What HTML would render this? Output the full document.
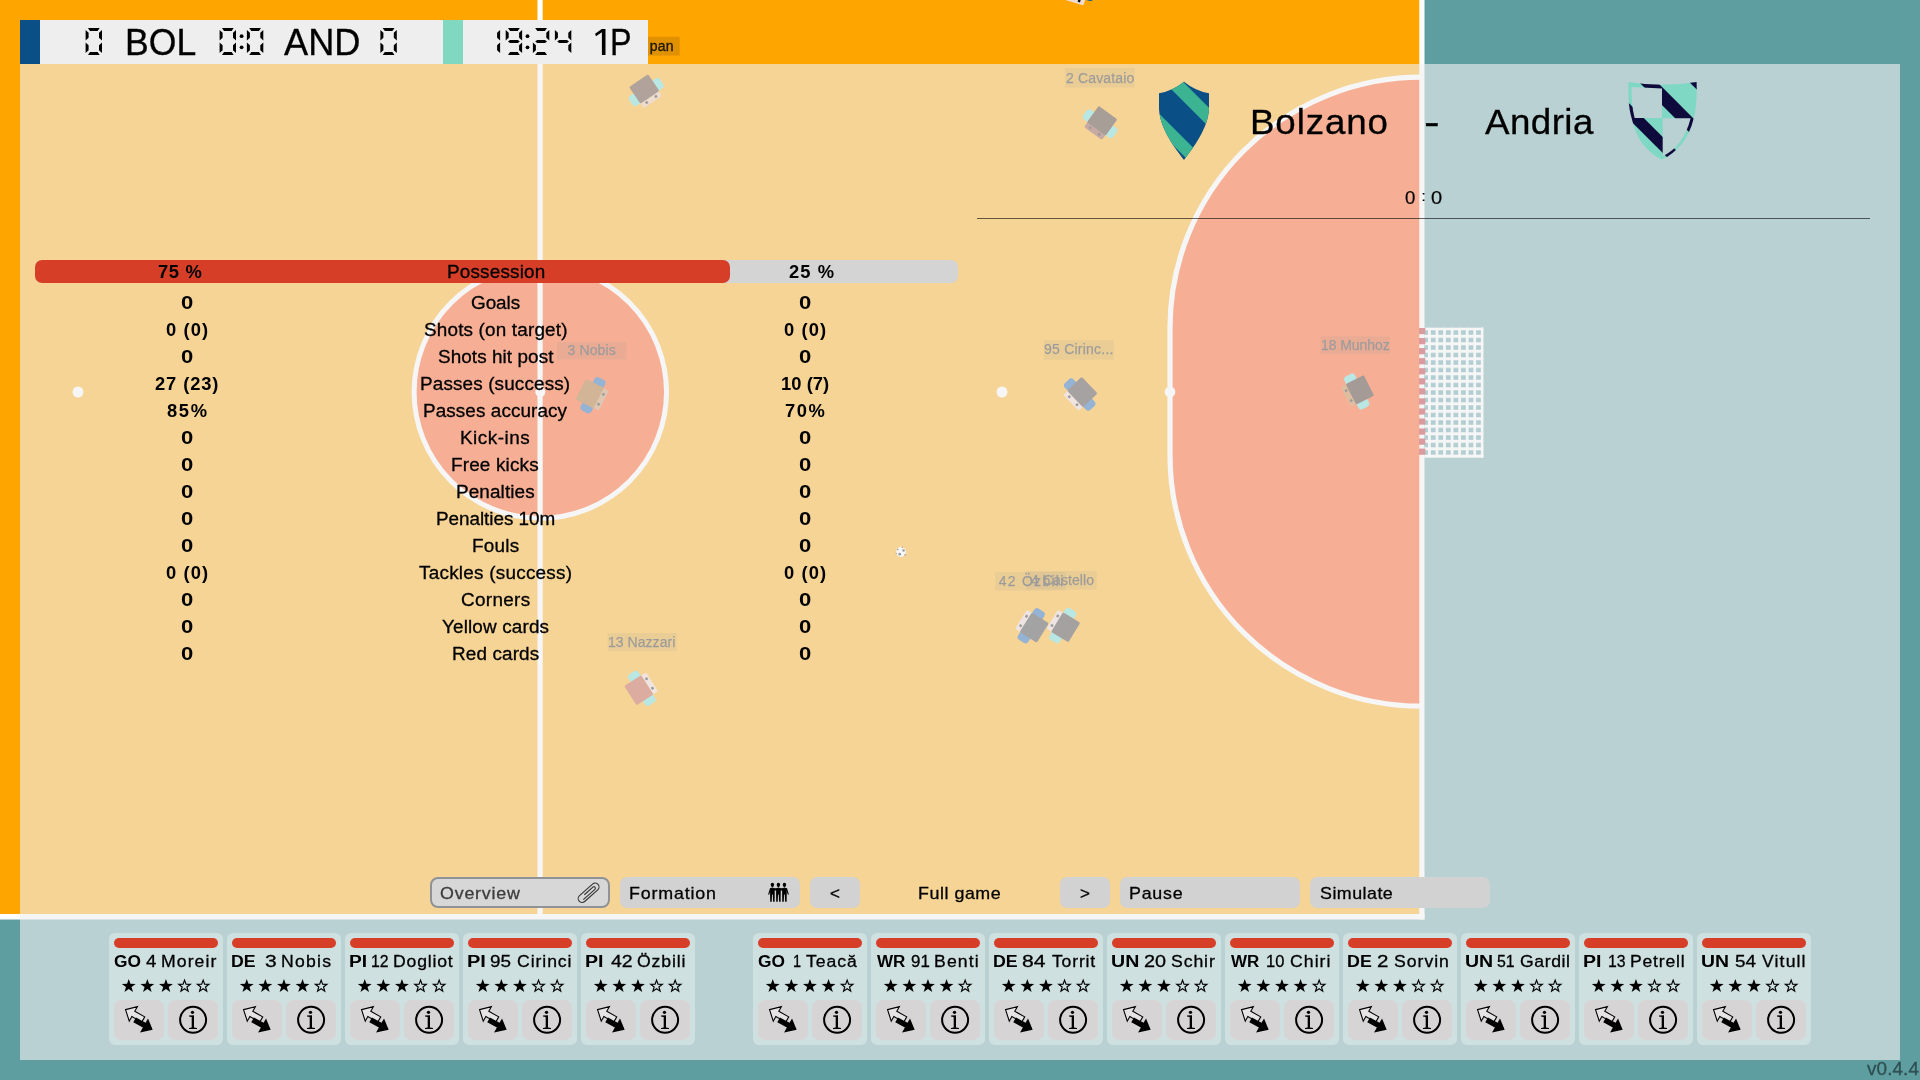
<!DOCTYPE html>
<html><head><meta charset="utf-8"><title>Match</title>
<style>
html,body{margin:0;padding:0;}
body{width:1920px;height:1080px;overflow:hidden;position:relative;background:#5f9ea0;font-family:"Liberation Sans",sans-serif;}
.t{position:absolute;white-space:pre;line-height:1;display:block;}
.abs{position:absolute;}
#game{position:absolute;left:0;top:0;will-change:transform;}
#ov{position:absolute;left:20px;top:64px;width:1880px;height:996px;background:rgba(240,240,240,0.62);}
.btn{position:absolute;background:#d2d2d2;border-radius:7px;box-sizing:border-box;}
.card{position:absolute;top:933px;width:113.5px;height:112px;border-radius:6px;background:rgba(255,255,255,0.32);}
.bar{position:absolute;left:5px;top:5px;width:104px;height:10px;border-radius:5px;background:#d73e28;}
.cb{position:absolute;top:67px;width:50px;height:40px;border-radius:7px;background:#d6d4d4;}
</style></head><body>

<svg id="game" width="1920" height="1080" viewBox="0 0 1920 1080">
<rect x="0" y="0" width="1920" height="1080" fill="#5f9ea0"/>
<rect x="0" y="0" width="1422" height="917" fill="#ffa500"/>
<circle cx="540.3" cy="392" r="126.2" fill="#ff4500" stroke="#fff" stroke-width="5"/>
<path d="M1421.5,77.2 A251.5,251 0 0 0 1170,328.2 L1170,455.2 A251.5,251 0 0 0 1421.5,706.2 Z" fill="#ff4500"/><path d="M1421.5,77.2 A251.5,251 0 0 0 1170,328.2 L1170,455.2 A251.5,251 0 0 0 1421.5,706.2" fill="none" stroke="#fff" stroke-width="5.2"/>
<rect x="537.45" y="0" width="5.25" height="917" fill="#fff"/>
<rect x="1419.3" y="0" width="5.2" height="919.5" fill="#fff"/>
<rect x="0" y="914" width="1424.5" height="5.5" fill="#fff"/>
<circle cx="78" cy="392" r="5.5" fill="#fff"/>
<circle cx="1002" cy="392" r="5.5" fill="#fff"/>
<circle cx="1170" cy="392" r="5.4" fill="#fff"/>
<circle cx="540.3" cy="392" r="5" fill="#fff"/>
<defs><pattern id="net" x="1420.5" y="327.3" width="7.55" height="7.5" patternUnits="userSpaceOnUse"><rect x="0" y="0" width="7.55" height="7.5" fill="#fff"/><rect x="2.75" y="3.0" width="4.8" height="4.5" fill="#4e97a2"/></pattern></defs>
<rect x="1424.5" y="327.6" width="58.8" height="129.9" fill="url(#net)"/>
<rect x="1480.9" y="327.6" width="2.4" height="129.9" fill="#fff"/>
<rect x="1424.5" y="454.8" width="58.8" height="2.7" fill="#fff"/>
<rect x="1419" y="328.00" width="6.3" height="6.20" fill="#b5101a"/>
<rect x="1419" y="338.05" width="6.3" height="6.20" fill="#b5101a"/>
<rect x="1419" y="348.10" width="6.3" height="6.20" fill="#b5101a"/>
<rect x="1419" y="358.15" width="6.3" height="6.20" fill="#b5101a"/>
<rect x="1419" y="368.20" width="6.3" height="6.20" fill="#b5101a"/>
<rect x="1419" y="378.25" width="6.3" height="6.20" fill="#b5101a"/>
<rect x="1419" y="388.30" width="6.3" height="6.20" fill="#b5101a"/>
<rect x="1419" y="398.35" width="6.3" height="6.20" fill="#b5101a"/>
<rect x="1419" y="408.40" width="6.3" height="6.20" fill="#b5101a"/>
<rect x="1419" y="418.45" width="6.3" height="6.20" fill="#b5101a"/>
<rect x="1419" y="428.50" width="6.3" height="6.20" fill="#b5101a"/>
<rect x="1419" y="438.55" width="6.3" height="6.20" fill="#b5101a"/>
<rect x="1419" y="448.60" width="6.3" height="6.20" fill="#b5101a"/>
<g transform="translate(644.3,89.1) rotate(-34)"><rect x="-18.5" y="-2.5" width="37" height="12" rx="3.5" fill="#5fd8d0"/><rect x="-11" y="6" width="22" height="9.6" rx="1.5" fill="#ebbb94"/><rect x="-11.5" y="-10.2" width="23" height="20.2" rx="1.5" fill="#4b2611"/><rect x="-6.8" y="11.3" width="2.5" height="2.5" fill="#111"/><rect x="4.3" y="11.3" width="2.5" height="2.5" fill="#111"/></g>
<g transform="translate(1102.1,120.8) rotate(35.8)"><rect x="-18.5" y="-2.5" width="37" height="12" rx="3.5" fill="#5fd8d0"/><rect x="-11" y="6" width="22" height="9.6" rx="1.5" fill="#87382b"/><rect x="-11.5" y="-10.2" width="23" height="20.2" rx="1.5" fill="#33190a"/><rect x="-6.8" y="11.3" width="2.5" height="2.5" fill="#111"/><rect x="4.3" y="11.3" width="2.5" height="2.5" fill="#111"/></g>
<g transform="translate(589.8,393.7) rotate(-63.4)"><rect x="-18.5" y="-2.5" width="37" height="12" rx="3.5" fill="#004fa6"/><rect x="-11" y="6" width="22" height="9.6" rx="1.5" fill="#c18752"/><rect x="-11.5" y="-10.2" width="23" height="20.2" rx="1.5" fill="#a15204"/><rect x="-6.8" y="11.3" width="2.5" height="2.5" fill="#111"/><rect x="4.3" y="11.3" width="2.5" height="2.5" fill="#111"/></g>
<g transform="translate(1082.2,392.1) rotate(46.2)"><rect x="-18.5" y="-2.5" width="37" height="12" rx="3.5" fill="#004fa6"/><rect x="-11" y="6" width="22" height="9.6" rx="1.5" fill="#f0d0c8"/><rect x="-11.5" y="-10.2" width="23" height="20.2" rx="1.5" fill="#2e2424"/><rect x="-6.8" y="11.3" width="2.5" height="2.5" fill="#111"/><rect x="4.3" y="11.3" width="2.5" height="2.5" fill="#111"/></g>
<g transform="translate(1359.8,389.9) rotate(62.9)"><rect x="-18.5" y="-2.5" width="37" height="12" rx="3.5" fill="#5fd8d0"/><rect x="-11" y="6" width="22" height="9.6" rx="1.5" fill="#c16d1e"/><rect x="-11.5" y="-10.2" width="23" height="20.2" rx="1.5" fill="#2b1104"/><rect x="-6.8" y="11.3" width="2.5" height="2.5" fill="#111"/><rect x="4.3" y="11.3" width="2.5" height="2.5" fill="#111"/></g>
<g transform="translate(1034.2,627.6) rotate(122)"><rect x="-18.5" y="-2.5" width="37" height="12" rx="3.5" fill="#004fa6"/><rect x="-11" y="6" width="22" height="9.6" rx="1.5" fill="#ebd0d0"/><rect x="-11.5" y="-10.2" width="23" height="20.2" rx="1.5" fill="#262626"/><rect x="-6.8" y="11.3" width="2.5" height="2.5" fill="#111"/><rect x="4.3" y="11.3" width="2.5" height="2.5" fill="#111"/></g>
<g transform="translate(1065.6,627.25) rotate(121.2)"><rect x="-18.5" y="-2.5" width="37" height="12" rx="3.5" fill="#5fd8d0"/><rect x="-11" y="6" width="22" height="9.6" rx="1.5" fill="#ebd0d0"/><rect x="-11.5" y="-10.2" width="23" height="20.2" rx="1.5" fill="#2a2020"/><rect x="-6.8" y="11.3" width="2.5" height="2.5" fill="#111"/><rect x="4.3" y="11.3" width="2.5" height="2.5" fill="#111"/></g>
<g transform="translate(638.9,690.2) rotate(-122.4)"><rect x="-18.5" y="-2.5" width="37" height="12" rx="3.5" fill="#5fd8d0"/><rect x="-11" y="6" width="22" height="9.6" rx="1.5" fill="#f0d0c0"/><rect x="-11.5" y="-10.2" width="23" height="20.2" rx="1.5" fill="#bb3d1e"/><rect x="-6.8" y="11.3" width="2.5" height="2.5" fill="#111"/><rect x="4.3" y="11.3" width="2.5" height="2.5" fill="#111"/></g>
<g transform="translate(1077.5,-12.6) rotate(17)"><rect x="-18.5" y="-2.5" width="37" height="12" rx="3.5" fill="#0a5a9c"/><rect x="-11" y="6" width="22" height="9.6" rx="1.5" fill="#f0dcd0"/><rect x="-11.5" y="-10.2" width="23" height="20.2" rx="1.5" fill="#3a3030"/><rect x="-6.8" y="11.3" width="2.5" height="2.5" fill="#111"/><rect x="4.3" y="11.3" width="2.5" height="2.5" fill="#111"/></g>
<circle cx="901" cy="552" r="4.9" fill="#fff"/>
<circle cx="903.5" cy="550.4" r="1.25" fill="#111"/>
<circle cx="899.7" cy="554.2" r="1.35" fill="#111"/>
<circle cx="897.8" cy="549.6" r="0.8" fill="#111"/>
<circle cx="905.1" cy="554.9" r="0.8" fill="#111"/>
<circle cx="902.4" cy="547.4" r="0.6" fill="#111"/>
<circle cx="896.3" cy="553.4" r="0.6" fill="#111"/>
<rect x="610" y="36.8" width="69.7" height="18.8" fill="#000" fill-opacity="0.12"/><text x="649.73" y="51.0" font-family="Liberation Sans, sans-serif" font-size="14" letter-spacing="0.277" fill="#1c1705" stroke="#1c1705" stroke-width="0.35">pan</text>
<rect x="1065" y="67.9" width="69.6" height="19.6" fill="#000" fill-opacity="0.12"/><text x="1066.00" y="82.7" font-family="Liberation Sans, sans-serif" font-size="14" letter-spacing="0.154" fill="#111" stroke="#111" stroke-width="0.25">2 Cavataio</text><rect x="557" y="342" width="69.4" height="17.6" fill="#000" fill-opacity="0.12"/><text x="567.48" y="354.8" font-family="Liberation Sans, sans-serif" font-size="14" letter-spacing="0.142" fill="#111" stroke="#111" stroke-width="0.25">3 Nobis</text><rect x="1043.9" y="340.2" width="69.9" height="19.6" fill="#000" fill-opacity="0.12"/><text x="1043.97" y="353.9" font-family="Liberation Sans, sans-serif" font-size="14" letter-spacing="0.234" fill="#111" stroke="#111" stroke-width="0.25">95 Cirinc...</text><rect x="1320.4" y="336.25" width="69.8" height="17.8" fill="#000" fill-opacity="0.12"/><text x="1320.95" y="349.8" font-family="Liberation Sans, sans-serif" font-size="14" letter-spacing="-0.069" fill="#111" stroke="#111" stroke-width="0.25">18 Munhoz</text><rect x="995.3" y="572" width="70.3" height="18.6" fill="#000" fill-opacity="0.12"/><text x="998.68" y="585.5" font-family="Liberation Sans, sans-serif" font-size="14" letter-spacing="1.275" fill="#111" stroke="#111" stroke-width="0.25">42 Özbili</text><rect x="1026" y="571" width="70.7" height="18.6" fill="#000" fill-opacity="0.12"/><text x="1031.09" y="585" font-family="Liberation Sans, sans-serif" font-size="14" letter-spacing="0.072" fill="#111" stroke="#111" stroke-width="0.25">4 Castello</text><rect x="607.6" y="633" width="69.0" height="18.0" fill="#000" fill-opacity="0.12"/><text x="607.95" y="646.9" font-family="Liberation Sans, sans-serif" font-size="14" letter-spacing="0.053" fill="#111" stroke="#111" stroke-width="0.25">13 Nazzari</text>
</svg>
<div id="hud" style="position:absolute;left:0;top:0;width:1920px;height:1080px;will-change:transform;">
<div class="abs" style="left:20px;top:20px;width:628px;height:44px;background:#eeeeee;"></div>
<div class="abs" style="left:20px;top:20px;width:20px;height:44px;background:#0a4f86;"></div>
<div class="abs" style="left:443px;top:20px;width:20px;height:44px;background:#80d8c0;"></div>
<svg class="abs" style="left:0;top:0" width="700" height="70" viewBox="0 0 700 70" fill="#000"><g transform="translate(85.6,28)"><polygon points="2.3,0 14.1,0 12.0,3 4.4,3"/><polygon points="16.4,2.1 13.4,4.8 13.4,9.8 16.4,12.6"/><polygon points="16.4,14.4 13.4,17.2 13.4,22.2 16.4,24.9"/><polygon points="2.3,27 14.1,27 12.0,24 4.4,24"/><polygon points="0,14.4 3,17.2 3,22.2 0,24.9"/><polygon points="0,2.1 3,4.8 3,9.8 0,12.6"/></g><g transform="translate(219.6,28)"><polygon points="2.3,0 14.1,0 12.0,3 4.4,3"/><polygon points="16.4,2.1 13.4,4.8 13.4,9.8 16.4,12.6"/><polygon points="16.4,14.4 13.4,17.2 13.4,22.2 16.4,24.9"/><polygon points="2.3,27 14.1,27 12.0,24 4.4,24"/><polygon points="0,14.4 3,17.2 3,22.2 0,24.9"/><polygon points="0,2.1 3,4.8 3,9.8 0,12.6"/></g><g transform="translate(246.9,28)"><polygon points="2.3,0 14.1,0 12.0,3 4.4,3"/><polygon points="16.4,2.1 13.4,4.8 13.4,9.8 16.4,12.6"/><polygon points="16.4,14.4 13.4,17.2 13.4,22.2 16.4,24.9"/><polygon points="2.3,27 14.1,27 12.0,24 4.4,24"/><polygon points="0,14.4 3,17.2 3,22.2 0,24.9"/><polygon points="0,2.1 3,4.8 3,9.8 0,12.6"/></g><g transform="translate(380.4,28)"><polygon points="2.3,0 14.1,0 12.0,3 4.4,3"/><polygon points="16.4,2.1 13.4,4.8 13.4,9.8 16.4,12.6"/><polygon points="16.4,14.4 13.4,17.2 13.4,22.2 16.4,24.9"/><polygon points="2.3,27 14.1,27 12.0,24 4.4,24"/><polygon points="0,14.4 3,17.2 3,22.2 0,24.9"/><polygon points="0,2.1 3,4.8 3,9.8 0,12.6"/></g><g transform="translate(483.7,28)"><polygon points="16.4,2.1 13.4,4.8 13.4,9.8 16.4,12.6"/><polygon points="16.4,14.4 13.4,17.2 13.4,22.2 16.4,24.9"/></g><g transform="translate(505.7,28)"><polygon points="2.3,0 14.1,0 12.0,3 4.4,3"/><polygon points="16.4,2.1 13.4,4.8 13.4,9.8 16.4,12.6"/><polygon points="16.4,14.4 13.4,17.2 13.4,22.2 16.4,24.9"/><polygon points="2.3,27 14.1,27 12.0,24 4.4,24"/><polygon points="0,2.1 3,4.8 3,9.8 0,12.6"/><polygon points="2.3,13.5 4.3,12.1 12.1,12.1 14.1,13.5 12.1,14.9 4.3,14.9"/></g><g transform="translate(532.9,28)"><polygon points="2.3,0 14.1,0 12.0,3 4.4,3"/><polygon points="16.4,2.1 13.4,4.8 13.4,9.8 16.4,12.6"/><polygon points="2.3,13.5 4.3,12.1 12.1,12.1 14.1,13.5 12.1,14.9 4.3,14.9"/><polygon points="0,14.4 3,17.2 3,22.2 0,24.9"/><polygon points="2.3,27 14.1,27 12.0,24 4.4,24"/></g><g transform="translate(554.9,28)"><polygon points="0,2.1 3,4.8 3,9.8 0,12.6"/><polygon points="2.3,13.5 4.3,12.1 12.1,12.1 14.1,13.5 12.1,14.9 4.3,14.9"/><polygon points="16.4,2.1 13.4,4.8 13.4,9.8 16.4,12.6"/><polygon points="16.4,14.4 13.4,17.2 13.4,22.2 16.4,24.9"/></g><circle cx="241.6" cy="36.2" r="1.9"/><circle cx="241.6" cy="47.3" r="1.9"/><circle cx="527.5" cy="36.2" r="1.9"/><circle cx="527.5" cy="47.3" r="1.9"/></svg>
<span class="t" style="left:124.90px;top:24.53px;font-size:36px;letter-spacing:0.000px;color:#000;transform:scaleX(0.9884);transform-origin:0 0;-webkit-text-stroke:0.3px #000;">BOL</span>
<span class="t" style="left:284.00px;top:24.53px;font-size:36px;letter-spacing:0.000px;color:#000;transform:scaleX(1.0062);transform-origin:0 0;-webkit-text-stroke:0.3px #000;">AND</span>
<span class="t" style="left:610.11px;top:24.53px;font-size:36px;letter-spacing:0.000px;color:#000;transform:scaleX(0.8982);transform-origin:0 0;-webkit-text-stroke:0.3px #000;">P</span>
<svg class="abs" style="left:590px;top:24px" width="20" height="36" viewBox="590 24 20 36"><polygon points="605.5,28.9 605.5,54.9 601.9,54.9 601.9,32.3 596,36.2 595.1,33.7 601.8,28.9" fill="#000"/></svg>
</div>
<div id="ov"></div>
<div id="ui" style="position:absolute;left:0;top:0;width:1920px;height:1080px;will-change:transform;">
<svg class="abs" style="left:1140px;top:70px" width="100" height="100" viewBox="1140 70 100 100">
<defs><clipPath id="sh1"><path d="M1184,81.8 Q1196,91.5 1209,93.2 L1209,109 C1208,128 1194,147 1184,160 C1174,147 1160,128 1159,109 L1159,93.2 Q1172,91.5 1184,81.8 Z"/></clipPath></defs>
<g clip-path="url(#sh1)"><rect x="1140" y="70" width="100" height="100" fill="#0a4f86"/>
<polygon points="1140,38.7 1240,138.7 1240,158 1140,58" fill="#3cb391"/>
<polygon points="1140,94.5 1240,194.5 1240,212 1140,112" fill="#3cb391"/>
</g></svg>
<svg class="abs" style="left:1615px;top:70px" width="100" height="100" viewBox="1615 70 100 100">
<defs>
<clipPath id="sh2"><path d="M1628.4,82 Q1662,87.5 1696.6,82 C1697,95 1696.5,108 1693.8,118 C1689,139 1677,152.5 1662,159.6 C1647,152.5 1636,139 1631.6,118 C1628.5,108 1628.2,95 1628.4,82 Z"/></clipPath>
<mask id="m2"><rect x="1615" y="70" width="100" height="100" fill="#fff"/>
<path d="M1631.6,86.9 L1662,88.6 L1662,118 L1634.6,118 C1632,108 1631.5,97 1631.6,86.9 Z" fill="#000"/>
<path d="M1662.7,118.3 L1690.6,118.3 C1686,137 1676,150 1662.7,156.3 Z" fill="#000"/>
</mask></defs>
<g clip-path="url(#sh2)" mask="url(#m2)"><rect x="1615" y="70" width="100" height="100" fill="#7fd8c3"/>
<polygon points="1615,-9.7 1715,90.3 1715,107.8 1615,7.8" fill="#0f0a3c"/>
<polygon points="1615,39.9 1715,139.9 1715,158.1 1615,58.1" fill="#0f0a3c"/>
<polygon points="1615,89.2 1715,189.2 1715,205.2 1615,105.2" fill="#0f0a3c"/>
</g></svg>
<span class="t" style="left:1249.86px;top:104.37px;font-size:35px;letter-spacing:0.810px;color:#000;transform:scaleX(1.0500);transform-origin:0 0;-webkit-text-stroke:0.3px #000;">Bolzano</span>
<span class="t" style="left:1423.61px;top:104.37px;font-size:35px;letter-spacing:0.000px;color:#000;transform:scaleX(1.3391);transform-origin:0 0;-webkit-text-stroke:0.3px #000;">-</span>
<span class="t" style="left:1485.00px;top:104.37px;font-size:35px;letter-spacing:0.400px;color:#000;transform:scaleX(1.0500);transform-origin:0 0;-webkit-text-stroke:0.3px #000;">Andria</span>
<span class="t" style="left:1405.30px;top:188.76px;font-size:18px;letter-spacing:0.000px;color:#000;transform:scaleX(1.0301);transform-origin:0 0;-webkit-text-stroke:0.2px #000;">0</span>
<span class="t" style="left:1431.05px;top:188.76px;font-size:18px;letter-spacing:0.000px;color:#000;transform:scaleX(1.1111);transform-origin:0 0;-webkit-text-stroke:0.2px #000;">0</span>
<span class="t" style="left:1421.52px;top:188.10px;font-size:15px;letter-spacing:0.000px;color:#000;-webkit-text-stroke:0.2px #000;">:</span>
<div class="abs" style="left:977px;top:218px;width:893px;height:1px;background:rgba(0,0,0,0.6);"></div>
<div class="abs" style="left:35px;top:260px;width:922.5px;height:23px;border-radius:7px;background:#d4d4d4;"></div>
<div class="abs" style="left:35px;top:260px;width:694.8px;height:23px;border-radius:7px;background:#d73e28;"></div>
<span class="t" style="left:157.72px;top:262.96px;font-size:18px;letter-spacing:0.614px;color:#000;font-weight:bold;transform:scaleX(1.0200);transform-origin:0 0;">75 %</span>
<span class="t" style="left:446.54px;top:262.96px;font-size:18px;letter-spacing:0.166px;color:#000;transform:scaleX(1.0500);transform-origin:0 0;-webkit-text-stroke:0.3px #000;">Possession</span>
<span class="t" style="left:789.40px;top:262.96px;font-size:18px;letter-spacing:1.044px;color:#000;font-weight:bold;transform:scaleX(1.0200);transform-origin:0 0;">25 %</span>
<span class="t" style="left:180.87px;top:293.76px;font-size:18px;letter-spacing:0.000px;color:#000;font-weight:bold;transform:scaleX(1.2269);transform-origin:0 0;">0</span>
<span class="t" style="left:470.91px;top:293.76px;font-size:18px;letter-spacing:-0.064px;color:#000;transform:scaleX(1.0500);transform-origin:0 0;-webkit-text-stroke:0.3px #000;">Goals</span>
<span class="t" style="left:798.62px;top:293.76px;font-size:18px;letter-spacing:0.000px;color:#000;font-weight:bold;transform:scaleX(1.2269);transform-origin:0 0;">0</span>
<span class="t" style="left:166.06px;top:320.76px;font-size:18px;letter-spacing:1.061px;color:#000;font-weight:bold;transform:scaleX(1.0200);transform-origin:0 0;">0 (0)</span>
<span class="t" style="left:424.00px;top:320.76px;font-size:18px;letter-spacing:0.162px;color:#000;transform:scaleX(1.0500);transform-origin:0 0;-webkit-text-stroke:0.3px #000;">Shots (on target)</span>
<span class="t" style="left:783.81px;top:320.76px;font-size:18px;letter-spacing:1.061px;color:#000;font-weight:bold;transform:scaleX(1.0200);transform-origin:0 0;">0 (0)</span>
<span class="t" style="left:180.87px;top:347.76px;font-size:18px;letter-spacing:0.000px;color:#000;font-weight:bold;transform:scaleX(1.2269);transform-origin:0 0;">0</span>
<span class="t" style="left:437.50px;top:347.76px;font-size:18px;letter-spacing:0.067px;color:#000;transform:scaleX(1.0500);transform-origin:0 0;-webkit-text-stroke:0.3px #000;">Shots hit post</span>
<span class="t" style="left:798.62px;top:347.76px;font-size:18px;letter-spacing:0.000px;color:#000;font-weight:bold;transform:scaleX(1.2269);transform-origin:0 0;">0</span>
<span class="t" style="left:155.40px;top:374.76px;font-size:18px;letter-spacing:0.868px;color:#000;font-weight:bold;transform:scaleX(1.0200);transform-origin:0 0;">27 (23)</span>
<span class="t" style="left:420.34px;top:374.76px;font-size:18px;letter-spacing:0.131px;color:#000;transform:scaleX(1.0500);transform-origin:0 0;-webkit-text-stroke:0.3px #000;">Passes (success)</span>
<span class="t" style="left:780.50px;top:374.76px;font-size:18px;letter-spacing:0.050px;color:#000;font-weight:bold;transform:scaleX(1.0200);transform-origin:0 0;">10 (7)</span>
<span class="t" style="left:166.95px;top:401.76px;font-size:18px;letter-spacing:1.590px;color:#000;font-weight:bold;transform:scaleX(1.0200);transform-origin:0 0;">85%</span>
<span class="t" style="left:422.84px;top:401.76px;font-size:18px;letter-spacing:0.080px;color:#000;transform:scaleX(1.0500);transform-origin:0 0;-webkit-text-stroke:0.3px #000;">Passes accuracy</span>
<span class="t" style="left:784.72px;top:401.76px;font-size:18px;letter-spacing:1.458px;color:#000;font-weight:bold;transform:scaleX(1.0200);transform-origin:0 0;">70%</span>
<span class="t" style="left:180.87px;top:428.76px;font-size:18px;letter-spacing:0.000px;color:#000;font-weight:bold;transform:scaleX(1.2269);transform-origin:0 0;">0</span>
<span class="t" style="left:460.34px;top:428.76px;font-size:18px;letter-spacing:0.479px;color:#000;transform:scaleX(1.0500);transform-origin:0 0;-webkit-text-stroke:0.3px #000;">Kick-ins</span>
<span class="t" style="left:798.62px;top:428.76px;font-size:18px;letter-spacing:0.000px;color:#000;font-weight:bold;transform:scaleX(1.2269);transform-origin:0 0;">0</span>
<span class="t" style="left:180.87px;top:455.76px;font-size:18px;letter-spacing:0.000px;color:#000;font-weight:bold;transform:scaleX(1.2269);transform-origin:0 0;">0</span>
<span class="t" style="left:451.34px;top:455.76px;font-size:18px;letter-spacing:0.163px;color:#000;transform:scaleX(1.0500);transform-origin:0 0;-webkit-text-stroke:0.3px #000;">Free kicks</span>
<span class="t" style="left:798.62px;top:455.76px;font-size:18px;letter-spacing:0.000px;color:#000;font-weight:bold;transform:scaleX(1.2269);transform-origin:0 0;">0</span>
<span class="t" style="left:180.87px;top:482.76px;font-size:18px;letter-spacing:0.000px;color:#000;font-weight:bold;transform:scaleX(1.2269);transform-origin:0 0;">0</span>
<span class="t" style="left:455.84px;top:482.76px;font-size:18px;letter-spacing:0.107px;color:#000;transform:scaleX(1.0500);transform-origin:0 0;-webkit-text-stroke:0.3px #000;">Penalties</span>
<span class="t" style="left:798.62px;top:482.76px;font-size:18px;letter-spacing:0.000px;color:#000;font-weight:bold;transform:scaleX(1.2269);transform-origin:0 0;">0</span>
<span class="t" style="left:180.87px;top:509.76px;font-size:18px;letter-spacing:0.000px;color:#000;font-weight:bold;transform:scaleX(1.2269);transform-origin:0 0;">0</span>
<span class="t" style="left:435.84px;top:509.76px;font-size:18px;letter-spacing:-0.043px;color:#000;transform:scaleX(1.0500);transform-origin:0 0;-webkit-text-stroke:0.3px #000;">Penalties 10m</span>
<span class="t" style="left:798.62px;top:509.76px;font-size:18px;letter-spacing:0.000px;color:#000;font-weight:bold;transform:scaleX(1.2269);transform-origin:0 0;">0</span>
<span class="t" style="left:180.87px;top:536.76px;font-size:18px;letter-spacing:0.000px;color:#000;font-weight:bold;transform:scaleX(1.2269);transform-origin:0 0;">0</span>
<span class="t" style="left:471.59px;top:536.76px;font-size:18px;letter-spacing:0.229px;color:#000;transform:scaleX(1.0500);transform-origin:0 0;-webkit-text-stroke:0.3px #000;">Fouls</span>
<span class="t" style="left:798.62px;top:536.76px;font-size:18px;letter-spacing:0.000px;color:#000;font-weight:bold;transform:scaleX(1.2269);transform-origin:0 0;">0</span>
<span class="t" style="left:166.06px;top:563.76px;font-size:18px;letter-spacing:1.061px;color:#000;font-weight:bold;transform:scaleX(1.0200);transform-origin:0 0;">0 (0)</span>
<span class="t" style="left:419.47px;top:563.76px;font-size:18px;letter-spacing:0.232px;color:#000;transform:scaleX(1.0500);transform-origin:0 0;-webkit-text-stroke:0.3px #000;">Tackles (success)</span>
<span class="t" style="left:783.81px;top:563.76px;font-size:18px;letter-spacing:1.061px;color:#000;font-weight:bold;transform:scaleX(1.0200);transform-origin:0 0;">0 (0)</span>
<span class="t" style="left:180.87px;top:590.76px;font-size:18px;letter-spacing:0.000px;color:#000;font-weight:bold;transform:scaleX(1.2269);transform-origin:0 0;">0</span>
<span class="t" style="left:460.91px;top:590.76px;font-size:18px;letter-spacing:0.297px;color:#000;transform:scaleX(1.0500);transform-origin:0 0;-webkit-text-stroke:0.3px #000;">Corners</span>
<span class="t" style="left:798.62px;top:590.76px;font-size:18px;letter-spacing:0.000px;color:#000;font-weight:bold;transform:scaleX(1.2269);transform-origin:0 0;">0</span>
<span class="t" style="left:180.87px;top:617.76px;font-size:18px;letter-spacing:0.000px;color:#000;font-weight:bold;transform:scaleX(1.2269);transform-origin:0 0;">0</span>
<span class="t" style="left:442.22px;top:617.76px;font-size:18px;letter-spacing:0.141px;color:#000;transform:scaleX(1.0500);transform-origin:0 0;-webkit-text-stroke:0.3px #000;">Yellow cards</span>
<span class="t" style="left:798.62px;top:617.76px;font-size:18px;letter-spacing:0.000px;color:#000;font-weight:bold;transform:scaleX(1.2269);transform-origin:0 0;">0</span>
<span class="t" style="left:180.87px;top:644.76px;font-size:18px;letter-spacing:0.000px;color:#000;font-weight:bold;transform:scaleX(1.2269);transform-origin:0 0;">0</span>
<span class="t" style="left:451.59px;top:644.76px;font-size:18px;letter-spacing:0.123px;color:#000;transform:scaleX(1.0500);transform-origin:0 0;-webkit-text-stroke:0.3px #000;">Red cards</span>
<span class="t" style="left:798.62px;top:644.76px;font-size:18px;letter-spacing:0.000px;color:#000;font-weight:bold;transform:scaleX(1.2269);transform-origin:0 0;">0</span>
<div class="btn" style="left:430px;top:877.1px;width:179.5px;height:30.6px;border:2px solid #8f9398;border-radius:8px;background:#d7d7d7;"></div>
<div class="btn" style="left:620px;top:877.2px;width:180px;height:30.4px;"></div>
<div class="btn" style="left:810px;top:877.2px;width:50px;height:30.4px;"></div>
<div class="btn" style="left:1060px;top:877.2px;width:50px;height:30.4px;"></div>
<div class="btn" style="left:1120px;top:877.2px;width:180px;height:30.4px;"></div>
<div class="btn" style="left:1310px;top:877.2px;width:180px;height:30.4px;"></div>
<span class="t" style="left:440.00px;top:884.61px;font-size:17px;letter-spacing:0.758px;color:#3c3c3c;transform:scaleX(1.0500);transform-origin:0 0;-webkit-text-stroke:0.3px #3c3c3c;">Overview</span>
<span class="t" style="left:628.97px;top:884.61px;font-size:17px;letter-spacing:0.788px;color:#000;transform:scaleX(1.0500);transform-origin:0 0;-webkit-text-stroke:0.3px #000;">Formation</span>
<span class="t" style="left:830.03px;top:884.61px;font-size:17px;letter-spacing:0.000px;color:#000;-webkit-text-stroke:0.3px #000;">&lt;</span>
<span class="t" style="left:1080.03px;top:884.61px;font-size:17px;letter-spacing:0.000px;color:#000;-webkit-text-stroke:0.3px #000;">&gt;</span>
<span class="t" style="left:917.87px;top:884.61px;font-size:17px;letter-spacing:0.515px;color:#000;transform:scaleX(1.0500);transform-origin:0 0;-webkit-text-stroke:0.3px #000;">Full game</span>
<span class="t" style="left:1128.97px;top:884.61px;font-size:17px;letter-spacing:0.710px;color:#000;transform:scaleX(1.0500);transform-origin:0 0;-webkit-text-stroke:0.3px #000;">Pause</span>
<span class="t" style="left:1319.80px;top:884.61px;font-size:17px;letter-spacing:0.452px;color:#000;transform:scaleX(1.0500);transform-origin:0 0;-webkit-text-stroke:0.3px #000;">Simulate</span>
<svg class="abs" style="left:572px;top:878px" width="34" height="30" viewBox="572 878 34 30" fill="none" stroke="#333" stroke-width="1.1">
<g transform="translate(588.6,892.8) rotate(-41.5)">
<rect x="-12.6" y="-3.9" width="25.2" height="7.8" rx="3.9"/>
<path d="M-4.5,-1.4 L7,-1.4 A1.5,1.5 0 0 1 7,1.6 L-8.5,1.6"/>
<path d="M-6,4.2 L-6,4.2"/>
</g></svg>
<svg class="abs" style="left:764px;top:880px" width="30" height="26" viewBox="764 880 30 26" fill="#000"><ellipse cx="772.4" cy="884.7" rx="1.7" ry="1.9"/><rect x="771.6" y="885.5" width="1.6" height="2"/><path d="M770.1,888.2 L774.6999999999999,888.2 L774.6999999999999,894 L774.6,901.8 L773.1,901.8 L772.75,894.5 L772.05,894.5 L771.6999999999999,901.8 L770.1999999999999,901.8 L770.1,894 Z"/><ellipse cx="778.4" cy="884.7" rx="1.7" ry="1.9"/><rect x="777.6" y="885.5" width="1.6" height="2"/><path d="M776.1,888.2 L780.6999999999999,888.2 L780.6999999999999,894 L780.6,901.8 L779.1,901.8 L778.75,894.5 L778.05,894.5 L777.6999999999999,901.8 L776.1999999999999,901.8 L776.1,894 Z"/><ellipse cx="784.45" cy="884.7" rx="1.7" ry="1.9"/><rect x="783.6500000000001" y="885.5" width="1.6" height="2"/><path d="M782.1500000000001,888.2 L786.75,888.2 L786.75,894 L786.6500000000001,901.8 L785.1500000000001,901.8 L784.8000000000001,894.5 L784.1,894.5 L783.75,901.8 L782.25,901.8 L782.1500000000001,894 Z"/><path d="M770,888.2 L787,888.2 L788.9,894.5 L787.9,894.8 L786.4,890.5 L770.6,890.5 L769.1,894.8 L768.1,894.5 Z"/></svg>
<div class="card" style="left:109px;"><div class="bar"></div><svg class="abs" style="left:0;top:40px" width="113" height="26" viewBox="0 0 113 26"><polygon points="19.75,5.90 21.45,10.85 26.69,10.94 22.51,14.10 24.04,19.11 19.75,16.10 15.46,19.11 16.99,14.10 12.81,10.94 18.05,10.85" fill="#000"/><polygon points="38.35,5.90 40.05,10.85 45.29,10.94 41.11,14.10 42.64,19.11 38.35,16.10 34.06,19.11 35.59,14.10 31.41,10.94 36.65,10.85" fill="#000"/><polygon points="56.95,5.90 58.65,10.85 63.89,10.94 59.71,14.10 61.24,19.11 56.95,16.10 52.66,19.11 54.19,14.10 50.01,10.94 55.25,10.85" fill="#000"/><polygon points="75.55,7.10 77.02,11.18 81.35,11.31 77.93,13.97 79.14,18.14 75.55,15.70 71.96,18.14 73.17,13.97 69.75,11.31 74.08,11.18" fill="none" stroke="#000" stroke-width="1.15"/><polygon points="94.15,7.10 95.62,11.18 99.95,11.31 96.53,13.97 97.74,18.14 94.15,15.70 90.56,18.14 91.77,13.97 88.35,11.31 92.68,11.18" fill="none" stroke="#000" stroke-width="1.15"/></svg><div class="cb" style="left:5.3px;"><svg width="50" height="40" viewBox="0 0 50 40"><g transform="translate(11.55,9.6) rotate(29.2)">
<path d="M0,0 L8.9,-8.3 L8.9,-3.0 L20.3,-3.0 L20.3,3.0 L8.9,3.0 L8.9,8.3 Z" fill="#e6e4e4" stroke="#000" stroke-width="1.1" stroke-linejoin="miter"/>
<path d="M33.5,4.33 L23.9,-3.3 L23.9,1.75 L12.9,1.75 L12.9,7.25 L23.9,7.25 L23.9,13.0 Z" fill="#000"/>
</g></svg></div><div class="cb" style="left:59px;"><svg width="50" height="40" viewBox="0 0 50 40"><circle cx="25.1" cy="19.8" r="13" fill="none" stroke="#000" stroke-width="2"/>
<circle cx="24.5" cy="12.3" r="1.65" fill="#000"/>
<path d="M21,15.6 L26,15.2 L26,27.6 L29,27.9 L29,28.9 L21,28.9 L21,27.9 L23.7,27.6 L23.7,16.9 L21,16.6 Z" fill="#000"/></svg></div></div>
<span class="t" style="left:113.71px;top:953.88px;font-size:16.8px;letter-spacing:0.000px;color:#000;font-weight:bold;transform:scaleX(1.0331);transform-origin:0 0;">GO</span>
<span class="t" style="left:145.83px;top:953.88px;font-size:16.8px;letter-spacing:0.000px;color:#000;transform:scaleX(1.1021);transform-origin:0 0;-webkit-text-stroke:0.3px #000;">4</span>
<span class="t" style="left:161.09px;top:953.88px;font-size:16.8px;letter-spacing:1.040px;color:#000;transform:scaleX(1.0500);transform-origin:0 0;-webkit-text-stroke:0.3px #000;">Moreir</span>
<div class="card" style="left:227px;"><div class="bar"></div><svg class="abs" style="left:0;top:40px" width="113" height="26" viewBox="0 0 113 26"><polygon points="19.75,5.90 21.45,10.85 26.69,10.94 22.51,14.10 24.04,19.11 19.75,16.10 15.46,19.11 16.99,14.10 12.81,10.94 18.05,10.85" fill="#000"/><polygon points="38.35,5.90 40.05,10.85 45.29,10.94 41.11,14.10 42.64,19.11 38.35,16.10 34.06,19.11 35.59,14.10 31.41,10.94 36.65,10.85" fill="#000"/><polygon points="56.95,5.90 58.65,10.85 63.89,10.94 59.71,14.10 61.24,19.11 56.95,16.10 52.66,19.11 54.19,14.10 50.01,10.94 55.25,10.85" fill="#000"/><polygon points="75.55,5.90 77.25,10.85 82.49,10.94 78.31,14.10 79.84,19.11 75.55,16.10 71.26,19.11 72.79,14.10 68.61,10.94 73.85,10.85" fill="#000"/><polygon points="94.15,7.10 95.62,11.18 99.95,11.31 96.53,13.97 97.74,18.14 94.15,15.70 90.56,18.14 91.77,13.97 88.35,11.31 92.68,11.18" fill="none" stroke="#000" stroke-width="1.15"/></svg><div class="cb" style="left:5.3px;"><svg width="50" height="40" viewBox="0 0 50 40"><g transform="translate(11.55,9.6) rotate(29.2)">
<path d="M0,0 L8.9,-8.3 L8.9,-3.0 L20.3,-3.0 L20.3,3.0 L8.9,3.0 L8.9,8.3 Z" fill="#e6e4e4" stroke="#000" stroke-width="1.1" stroke-linejoin="miter"/>
<path d="M33.5,4.33 L23.9,-3.3 L23.9,1.75 L12.9,1.75 L12.9,7.25 L23.9,7.25 L23.9,13.0 Z" fill="#000"/>
</g></svg></div><div class="cb" style="left:59px;"><svg width="50" height="40" viewBox="0 0 50 40"><circle cx="25.1" cy="19.8" r="13" fill="none" stroke="#000" stroke-width="2"/>
<circle cx="24.5" cy="12.3" r="1.65" fill="#000"/>
<path d="M21,15.6 L26,15.2 L26,27.6 L29,27.9 L29,28.9 L21,28.9 L21,27.9 L23.7,27.6 L23.7,16.9 L21,16.6 Z" fill="#000"/></svg></div></div>
<span class="t" style="left:231.35px;top:953.88px;font-size:16.8px;letter-spacing:0.000px;color:#000;font-weight:bold;transform:scaleX(1.0541);transform-origin:0 0;">DE</span>
<span class="t" style="left:264.81px;top:953.88px;font-size:16.8px;letter-spacing:0.000px;color:#000;transform:scaleX(1.2531);transform-origin:0 0;-webkit-text-stroke:0.3px #000;">3</span>
<span class="t" style="left:280.79px;top:953.88px;font-size:16.8px;letter-spacing:1.194px;color:#000;transform:scaleX(1.0500);transform-origin:0 0;-webkit-text-stroke:0.3px #000;">Nobis</span>
<div class="card" style="left:345px;"><div class="bar"></div><svg class="abs" style="left:0;top:40px" width="113" height="26" viewBox="0 0 113 26"><polygon points="19.75,5.90 21.45,10.85 26.69,10.94 22.51,14.10 24.04,19.11 19.75,16.10 15.46,19.11 16.99,14.10 12.81,10.94 18.05,10.85" fill="#000"/><polygon points="38.35,5.90 40.05,10.85 45.29,10.94 41.11,14.10 42.64,19.11 38.35,16.10 34.06,19.11 35.59,14.10 31.41,10.94 36.65,10.85" fill="#000"/><polygon points="56.95,5.90 58.65,10.85 63.89,10.94 59.71,14.10 61.24,19.11 56.95,16.10 52.66,19.11 54.19,14.10 50.01,10.94 55.25,10.85" fill="#000"/><polygon points="75.55,7.10 77.02,11.18 81.35,11.31 77.93,13.97 79.14,18.14 75.55,15.70 71.96,18.14 73.17,13.97 69.75,11.31 74.08,11.18" fill="none" stroke="#000" stroke-width="1.15"/><polygon points="94.15,7.10 95.62,11.18 99.95,11.31 96.53,13.97 97.74,18.14 94.15,15.70 90.56,18.14 91.77,13.97 88.35,11.31 92.68,11.18" fill="none" stroke="#000" stroke-width="1.15"/></svg><div class="cb" style="left:5.3px;"><svg width="50" height="40" viewBox="0 0 50 40"><g transform="translate(11.55,9.6) rotate(29.2)">
<path d="M0,0 L8.9,-8.3 L8.9,-3.0 L20.3,-3.0 L20.3,3.0 L8.9,3.0 L8.9,8.3 Z" fill="#e6e4e4" stroke="#000" stroke-width="1.1" stroke-linejoin="miter"/>
<path d="M33.5,4.33 L23.9,-3.3 L23.9,1.75 L12.9,1.75 L12.9,7.25 L23.9,7.25 L23.9,13.0 Z" fill="#000"/>
</g></svg></div><div class="cb" style="left:59px;"><svg width="50" height="40" viewBox="0 0 50 40"><circle cx="25.1" cy="19.8" r="13" fill="none" stroke="#000" stroke-width="2"/>
<circle cx="24.5" cy="12.3" r="1.65" fill="#000"/>
<path d="M21,15.6 L26,15.2 L26,27.6 L29,27.9 L29,28.9 L21,28.9 L21,27.9 L23.7,27.6 L23.7,16.9 L21,16.6 Z" fill="#000"/></svg></div></div>
<span class="t" style="left:349.35px;top:953.88px;font-size:16.8px;letter-spacing:0.000px;color:#000;font-weight:bold;transform:scaleX(1.1430);transform-origin:0 0;">PI</span>
<span class="t" style="left:370.72px;top:953.88px;font-size:16.8px;letter-spacing:0.000px;color:#000;transform:scaleX(0.9403);transform-origin:0 0;-webkit-text-stroke:0.3px #000;">12</span>
<span class="t" style="left:393.29px;top:953.88px;font-size:16.8px;letter-spacing:0.777px;color:#000;transform:scaleX(1.0500);transform-origin:0 0;-webkit-text-stroke:0.3px #000;">Dogliot</span>
<div class="card" style="left:463px;"><div class="bar"></div><svg class="abs" style="left:0;top:40px" width="113" height="26" viewBox="0 0 113 26"><polygon points="19.75,5.90 21.45,10.85 26.69,10.94 22.51,14.10 24.04,19.11 19.75,16.10 15.46,19.11 16.99,14.10 12.81,10.94 18.05,10.85" fill="#000"/><polygon points="38.35,5.90 40.05,10.85 45.29,10.94 41.11,14.10 42.64,19.11 38.35,16.10 34.06,19.11 35.59,14.10 31.41,10.94 36.65,10.85" fill="#000"/><polygon points="56.95,5.90 58.65,10.85 63.89,10.94 59.71,14.10 61.24,19.11 56.95,16.10 52.66,19.11 54.19,14.10 50.01,10.94 55.25,10.85" fill="#000"/><polygon points="75.55,7.10 77.02,11.18 81.35,11.31 77.93,13.97 79.14,18.14 75.55,15.70 71.96,18.14 73.17,13.97 69.75,11.31 74.08,11.18" fill="none" stroke="#000" stroke-width="1.15"/><polygon points="94.15,7.10 95.62,11.18 99.95,11.31 96.53,13.97 97.74,18.14 94.15,15.70 90.56,18.14 91.77,13.97 88.35,11.31 92.68,11.18" fill="none" stroke="#000" stroke-width="1.15"/></svg><div class="cb" style="left:5.3px;"><svg width="50" height="40" viewBox="0 0 50 40"><g transform="translate(11.55,9.6) rotate(29.2)">
<path d="M0,0 L8.9,-8.3 L8.9,-3.0 L20.3,-3.0 L20.3,3.0 L8.9,3.0 L8.9,8.3 Z" fill="#e6e4e4" stroke="#000" stroke-width="1.1" stroke-linejoin="miter"/>
<path d="M33.5,4.33 L23.9,-3.3 L23.9,1.75 L12.9,1.75 L12.9,7.25 L23.9,7.25 L23.9,13.0 Z" fill="#000"/>
</g></svg></div><div class="cb" style="left:59px;"><svg width="50" height="40" viewBox="0 0 50 40"><circle cx="25.1" cy="19.8" r="13" fill="none" stroke="#000" stroke-width="2"/>
<circle cx="24.5" cy="12.3" r="1.65" fill="#000"/>
<path d="M21,15.6 L26,15.2 L26,27.6 L29,27.9 L29,28.9 L21,28.9 L21,27.9 L23.7,27.6 L23.7,16.9 L21,16.6 Z" fill="#000"/></svg></div></div>
<span class="t" style="left:466.80px;top:953.88px;font-size:16.8px;letter-spacing:0.000px;color:#000;font-weight:bold;transform:scaleX(1.1905);transform-origin:0 0;">PI</span>
<span class="t" style="left:489.75px;top:953.88px;font-size:16.8px;letter-spacing:0.000px;color:#000;transform:scaleX(1.1266);transform-origin:0 0;-webkit-text-stroke:0.3px #000;">95</span>
<span class="t" style="left:516.92px;top:953.88px;font-size:16.8px;letter-spacing:0.885px;color:#000;transform:scaleX(1.0500);transform-origin:0 0;-webkit-text-stroke:0.3px #000;">Cirinci</span>
<div class="card" style="left:581px;"><div class="bar"></div><svg class="abs" style="left:0;top:40px" width="113" height="26" viewBox="0 0 113 26"><polygon points="19.75,5.90 21.45,10.85 26.69,10.94 22.51,14.10 24.04,19.11 19.75,16.10 15.46,19.11 16.99,14.10 12.81,10.94 18.05,10.85" fill="#000"/><polygon points="38.35,5.90 40.05,10.85 45.29,10.94 41.11,14.10 42.64,19.11 38.35,16.10 34.06,19.11 35.59,14.10 31.41,10.94 36.65,10.85" fill="#000"/><polygon points="56.95,5.90 58.65,10.85 63.89,10.94 59.71,14.10 61.24,19.11 56.95,16.10 52.66,19.11 54.19,14.10 50.01,10.94 55.25,10.85" fill="#000"/><polygon points="75.55,7.10 77.02,11.18 81.35,11.31 77.93,13.97 79.14,18.14 75.55,15.70 71.96,18.14 73.17,13.97 69.75,11.31 74.08,11.18" fill="none" stroke="#000" stroke-width="1.15"/><polygon points="94.15,7.10 95.62,11.18 99.95,11.31 96.53,13.97 97.74,18.14 94.15,15.70 90.56,18.14 91.77,13.97 88.35,11.31 92.68,11.18" fill="none" stroke="#000" stroke-width="1.15"/></svg><div class="cb" style="left:5.3px;"><svg width="50" height="40" viewBox="0 0 50 40"><g transform="translate(11.55,9.6) rotate(29.2)">
<path d="M0,0 L8.9,-8.3 L8.9,-3.0 L20.3,-3.0 L20.3,3.0 L8.9,3.0 L8.9,8.3 Z" fill="#e6e4e4" stroke="#000" stroke-width="1.1" stroke-linejoin="miter"/>
<path d="M33.5,4.33 L23.9,-3.3 L23.9,1.75 L12.9,1.75 L12.9,7.25 L23.9,7.25 L23.9,13.0 Z" fill="#000"/>
</g></svg></div><div class="cb" style="left:59px;"><svg width="50" height="40" viewBox="0 0 50 40"><circle cx="25.1" cy="19.8" r="13" fill="none" stroke="#000" stroke-width="2"/>
<circle cx="24.5" cy="12.3" r="1.65" fill="#000"/>
<path d="M21,15.6 L26,15.2 L26,27.6 L29,27.9 L29,28.9 L21,28.9 L21,27.9 L23.7,27.6 L23.7,16.9 L21,16.6 Z" fill="#000"/></svg></div></div>
<span class="t" style="left:584.98px;top:953.88px;font-size:16.8px;letter-spacing:0.000px;color:#000;font-weight:bold;transform:scaleX(1.1649);transform-origin:0 0;">PI</span>
<span class="t" style="left:610.56px;top:953.88px;font-size:16.8px;letter-spacing:0.000px;color:#000;transform:scaleX(1.1590);transform-origin:0 0;-webkit-text-stroke:0.3px #000;">42</span>
<span class="t" style="left:637.21px;top:953.88px;font-size:16.8px;letter-spacing:0.816px;color:#000;transform:scaleX(1.0500);transform-origin:0 0;-webkit-text-stroke:0.3px #000;">Özbili</span>
<div class="card" style="left:753px;"><div class="bar"></div><svg class="abs" style="left:0;top:40px" width="113" height="26" viewBox="0 0 113 26"><polygon points="19.75,5.90 21.45,10.85 26.69,10.94 22.51,14.10 24.04,19.11 19.75,16.10 15.46,19.11 16.99,14.10 12.81,10.94 18.05,10.85" fill="#000"/><polygon points="38.35,5.90 40.05,10.85 45.29,10.94 41.11,14.10 42.64,19.11 38.35,16.10 34.06,19.11 35.59,14.10 31.41,10.94 36.65,10.85" fill="#000"/><polygon points="56.95,5.90 58.65,10.85 63.89,10.94 59.71,14.10 61.24,19.11 56.95,16.10 52.66,19.11 54.19,14.10 50.01,10.94 55.25,10.85" fill="#000"/><polygon points="75.55,5.90 77.25,10.85 82.49,10.94 78.31,14.10 79.84,19.11 75.55,16.10 71.26,19.11 72.79,14.10 68.61,10.94 73.85,10.85" fill="#000"/><polygon points="94.15,7.10 95.62,11.18 99.95,11.31 96.53,13.97 97.74,18.14 94.15,15.70 90.56,18.14 91.77,13.97 88.35,11.31 92.68,11.18" fill="none" stroke="#000" stroke-width="1.15"/></svg><div class="cb" style="left:5.3px;"><svg width="50" height="40" viewBox="0 0 50 40"><g transform="translate(11.55,9.6) rotate(29.2)">
<path d="M0,0 L8.9,-8.3 L8.9,-3.0 L20.3,-3.0 L20.3,3.0 L8.9,3.0 L8.9,8.3 Z" fill="#e6e4e4" stroke="#000" stroke-width="1.1" stroke-linejoin="miter"/>
<path d="M33.5,4.33 L23.9,-3.3 L23.9,1.75 L12.9,1.75 L12.9,7.25 L23.9,7.25 L23.9,13.0 Z" fill="#000"/>
</g></svg></div><div class="cb" style="left:59px;"><svg width="50" height="40" viewBox="0 0 50 40"><circle cx="25.1" cy="19.8" r="13" fill="none" stroke="#000" stroke-width="2"/>
<circle cx="24.5" cy="12.3" r="1.65" fill="#000"/>
<path d="M21,15.6 L26,15.2 L26,27.6 L29,27.9 L29,28.9 L21,28.9 L21,27.9 L23.7,27.6 L23.7,16.9 L21,16.6 Z" fill="#000"/></svg></div></div>
<span class="t" style="left:757.71px;top:953.88px;font-size:16.8px;letter-spacing:0.000px;color:#000;font-weight:bold;transform:scaleX(1.0331);transform-origin:0 0;">GO</span>
<span class="t" style="left:792.91px;top:953.88px;font-size:16.8px;letter-spacing:0.000px;color:#000;transform:scaleX(0.8671);transform-origin:0 0;-webkit-text-stroke:0.3px #000;">1</span>
<span class="t" style="left:805.65px;top:953.88px;font-size:16.8px;letter-spacing:0.918px;color:#000;transform:scaleX(1.0500);transform-origin:0 0;-webkit-text-stroke:0.3px #000;">Teacă</span>
<div class="card" style="left:871px;"><div class="bar"></div><svg class="abs" style="left:0;top:40px" width="113" height="26" viewBox="0 0 113 26"><polygon points="19.75,5.90 21.45,10.85 26.69,10.94 22.51,14.10 24.04,19.11 19.75,16.10 15.46,19.11 16.99,14.10 12.81,10.94 18.05,10.85" fill="#000"/><polygon points="38.35,5.90 40.05,10.85 45.29,10.94 41.11,14.10 42.64,19.11 38.35,16.10 34.06,19.11 35.59,14.10 31.41,10.94 36.65,10.85" fill="#000"/><polygon points="56.95,5.90 58.65,10.85 63.89,10.94 59.71,14.10 61.24,19.11 56.95,16.10 52.66,19.11 54.19,14.10 50.01,10.94 55.25,10.85" fill="#000"/><polygon points="75.55,5.90 77.25,10.85 82.49,10.94 78.31,14.10 79.84,19.11 75.55,16.10 71.26,19.11 72.79,14.10 68.61,10.94 73.85,10.85" fill="#000"/><polygon points="94.15,7.10 95.62,11.18 99.95,11.31 96.53,13.97 97.74,18.14 94.15,15.70 90.56,18.14 91.77,13.97 88.35,11.31 92.68,11.18" fill="none" stroke="#000" stroke-width="1.15"/></svg><div class="cb" style="left:5.3px;"><svg width="50" height="40" viewBox="0 0 50 40"><g transform="translate(11.55,9.6) rotate(29.2)">
<path d="M0,0 L8.9,-8.3 L8.9,-3.0 L20.3,-3.0 L20.3,3.0 L8.9,3.0 L8.9,8.3 Z" fill="#e6e4e4" stroke="#000" stroke-width="1.1" stroke-linejoin="miter"/>
<path d="M33.5,4.33 L23.9,-3.3 L23.9,1.75 L12.9,1.75 L12.9,7.25 L23.9,7.25 L23.9,13.0 Z" fill="#000"/>
</g></svg></div><div class="cb" style="left:59px;"><svg width="50" height="40" viewBox="0 0 50 40"><circle cx="25.1" cy="19.8" r="13" fill="none" stroke="#000" stroke-width="2"/>
<circle cx="24.5" cy="12.3" r="1.65" fill="#000"/>
<path d="M21,15.6 L26,15.2 L26,27.6 L29,27.9 L29,28.9 L21,28.9 L21,27.9 L23.7,27.6 L23.7,16.9 L21,16.6 Z" fill="#000"/></svg></div></div>
<span class="t" style="left:876.90px;top:953.88px;font-size:16.8px;letter-spacing:0.000px;color:#000;font-weight:bold;transform:scaleX(1.0152);transform-origin:0 0;">WR</span>
<span class="t" style="left:911.44px;top:953.88px;font-size:16.8px;letter-spacing:0.000px;color:#000;transform:scaleX(1.0062);transform-origin:0 0;-webkit-text-stroke:0.3px #000;">91</span>
<span class="t" style="left:934.19px;top:953.88px;font-size:16.8px;letter-spacing:1.091px;color:#000;transform:scaleX(1.0500);transform-origin:0 0;-webkit-text-stroke:0.3px #000;">Benti</span>
<div class="card" style="left:989px;"><div class="bar"></div><svg class="abs" style="left:0;top:40px" width="113" height="26" viewBox="0 0 113 26"><polygon points="19.75,5.90 21.45,10.85 26.69,10.94 22.51,14.10 24.04,19.11 19.75,16.10 15.46,19.11 16.99,14.10 12.81,10.94 18.05,10.85" fill="#000"/><polygon points="38.35,5.90 40.05,10.85 45.29,10.94 41.11,14.10 42.64,19.11 38.35,16.10 34.06,19.11 35.59,14.10 31.41,10.94 36.65,10.85" fill="#000"/><polygon points="56.95,5.90 58.65,10.85 63.89,10.94 59.71,14.10 61.24,19.11 56.95,16.10 52.66,19.11 54.19,14.10 50.01,10.94 55.25,10.85" fill="#000"/><polygon points="75.55,7.10 77.02,11.18 81.35,11.31 77.93,13.97 79.14,18.14 75.55,15.70 71.96,18.14 73.17,13.97 69.75,11.31 74.08,11.18" fill="none" stroke="#000" stroke-width="1.15"/><polygon points="94.15,7.10 95.62,11.18 99.95,11.31 96.53,13.97 97.74,18.14 94.15,15.70 90.56,18.14 91.77,13.97 88.35,11.31 92.68,11.18" fill="none" stroke="#000" stroke-width="1.15"/></svg><div class="cb" style="left:5.3px;"><svg width="50" height="40" viewBox="0 0 50 40"><g transform="translate(11.55,9.6) rotate(29.2)">
<path d="M0,0 L8.9,-8.3 L8.9,-3.0 L20.3,-3.0 L20.3,3.0 L8.9,3.0 L8.9,8.3 Z" fill="#e6e4e4" stroke="#000" stroke-width="1.1" stroke-linejoin="miter"/>
<path d="M33.5,4.33 L23.9,-3.3 L23.9,1.75 L12.9,1.75 L12.9,7.25 L23.9,7.25 L23.9,13.0 Z" fill="#000"/>
</g></svg></div><div class="cb" style="left:59px;"><svg width="50" height="40" viewBox="0 0 50 40"><circle cx="25.1" cy="19.8" r="13" fill="none" stroke="#000" stroke-width="2"/>
<circle cx="24.5" cy="12.3" r="1.65" fill="#000"/>
<path d="M21,15.6 L26,15.2 L26,27.6 L29,27.9 L29,28.9 L21,28.9 L21,27.9 L23.7,27.6 L23.7,16.9 L21,16.6 Z" fill="#000"/></svg></div></div>
<span class="t" style="left:992.84px;top:953.88px;font-size:16.8px;letter-spacing:0.000px;color:#000;font-weight:bold;transform:scaleX(1.0587);transform-origin:0 0;">DE</span>
<span class="t" style="left:1022.10px;top:953.88px;font-size:16.8px;letter-spacing:0.000px;color:#000;transform:scaleX(1.2592);transform-origin:0 0;-webkit-text-stroke:0.3px #000;">84</span>
<span class="t" style="left:1052.45px;top:953.88px;font-size:16.8px;letter-spacing:0.769px;color:#000;transform:scaleX(1.0500);transform-origin:0 0;-webkit-text-stroke:0.3px #000;">Torrit</span>
<div class="card" style="left:1107px;"><div class="bar"></div><svg class="abs" style="left:0;top:40px" width="113" height="26" viewBox="0 0 113 26"><polygon points="19.75,5.90 21.45,10.85 26.69,10.94 22.51,14.10 24.04,19.11 19.75,16.10 15.46,19.11 16.99,14.10 12.81,10.94 18.05,10.85" fill="#000"/><polygon points="38.35,5.90 40.05,10.85 45.29,10.94 41.11,14.10 42.64,19.11 38.35,16.10 34.06,19.11 35.59,14.10 31.41,10.94 36.65,10.85" fill="#000"/><polygon points="56.95,5.90 58.65,10.85 63.89,10.94 59.71,14.10 61.24,19.11 56.95,16.10 52.66,19.11 54.19,14.10 50.01,10.94 55.25,10.85" fill="#000"/><polygon points="75.55,7.10 77.02,11.18 81.35,11.31 77.93,13.97 79.14,18.14 75.55,15.70 71.96,18.14 73.17,13.97 69.75,11.31 74.08,11.18" fill="none" stroke="#000" stroke-width="1.15"/><polygon points="94.15,7.10 95.62,11.18 99.95,11.31 96.53,13.97 97.74,18.14 94.15,15.70 90.56,18.14 91.77,13.97 88.35,11.31 92.68,11.18" fill="none" stroke="#000" stroke-width="1.15"/></svg><div class="cb" style="left:5.3px;"><svg width="50" height="40" viewBox="0 0 50 40"><g transform="translate(11.55,9.6) rotate(29.2)">
<path d="M0,0 L8.9,-8.3 L8.9,-3.0 L20.3,-3.0 L20.3,3.0 L8.9,3.0 L8.9,8.3 Z" fill="#e6e4e4" stroke="#000" stroke-width="1.1" stroke-linejoin="miter"/>
<path d="M33.5,4.33 L23.9,-3.3 L23.9,1.75 L12.9,1.75 L12.9,7.25 L23.9,7.25 L23.9,13.0 Z" fill="#000"/>
</g></svg></div><div class="cb" style="left:59px;"><svg width="50" height="40" viewBox="0 0 50 40"><circle cx="25.1" cy="19.8" r="13" fill="none" stroke="#000" stroke-width="2"/>
<circle cx="24.5" cy="12.3" r="1.65" fill="#000"/>
<path d="M21,15.6 L26,15.2 L26,27.6 L29,27.9 L29,28.9 L21,28.9 L21,27.9 L23.7,27.6 L23.7,16.9 L21,16.6 Z" fill="#000"/></svg></div></div>
<span class="t" style="left:1110.83px;top:953.88px;font-size:16.8px;letter-spacing:0.000px;color:#000;font-weight:bold;transform:scaleX(1.1656);transform-origin:0 0;">UN</span>
<span class="t" style="left:1144.01px;top:953.88px;font-size:16.8px;letter-spacing:0.000px;color:#000;transform:scaleX(1.1817);transform-origin:0 0;-webkit-text-stroke:0.3px #000;">20</span>
<span class="t" style="left:1170.81px;top:953.88px;font-size:16.8px;letter-spacing:0.877px;color:#000;transform:scaleX(1.0500);transform-origin:0 0;-webkit-text-stroke:0.3px #000;">Schir</span>
<div class="card" style="left:1225px;"><div class="bar"></div><svg class="abs" style="left:0;top:40px" width="113" height="26" viewBox="0 0 113 26"><polygon points="19.75,5.90 21.45,10.85 26.69,10.94 22.51,14.10 24.04,19.11 19.75,16.10 15.46,19.11 16.99,14.10 12.81,10.94 18.05,10.85" fill="#000"/><polygon points="38.35,5.90 40.05,10.85 45.29,10.94 41.11,14.10 42.64,19.11 38.35,16.10 34.06,19.11 35.59,14.10 31.41,10.94 36.65,10.85" fill="#000"/><polygon points="56.95,5.90 58.65,10.85 63.89,10.94 59.71,14.10 61.24,19.11 56.95,16.10 52.66,19.11 54.19,14.10 50.01,10.94 55.25,10.85" fill="#000"/><polygon points="75.55,5.90 77.25,10.85 82.49,10.94 78.31,14.10 79.84,19.11 75.55,16.10 71.26,19.11 72.79,14.10 68.61,10.94 73.85,10.85" fill="#000"/><polygon points="94.15,7.10 95.62,11.18 99.95,11.31 96.53,13.97 97.74,18.14 94.15,15.70 90.56,18.14 91.77,13.97 88.35,11.31 92.68,11.18" fill="none" stroke="#000" stroke-width="1.15"/></svg><div class="cb" style="left:5.3px;"><svg width="50" height="40" viewBox="0 0 50 40"><g transform="translate(11.55,9.6) rotate(29.2)">
<path d="M0,0 L8.9,-8.3 L8.9,-3.0 L20.3,-3.0 L20.3,3.0 L8.9,3.0 L8.9,8.3 Z" fill="#e6e4e4" stroke="#000" stroke-width="1.1" stroke-linejoin="miter"/>
<path d="M33.5,4.33 L23.9,-3.3 L23.9,1.75 L12.9,1.75 L12.9,7.25 L23.9,7.25 L23.9,13.0 Z" fill="#000"/>
</g></svg></div><div class="cb" style="left:59px;"><svg width="50" height="40" viewBox="0 0 50 40"><circle cx="25.1" cy="19.8" r="13" fill="none" stroke="#000" stroke-width="2"/>
<circle cx="24.5" cy="12.3" r="1.65" fill="#000"/>
<path d="M21,15.6 L26,15.2 L26,27.6 L29,27.9 L29,28.9 L21,28.9 L21,27.9 L23.7,27.6 L23.7,16.9 L21,16.6 Z" fill="#000"/></svg></div></div>
<span class="t" style="left:1231.00px;top:953.88px;font-size:16.8px;letter-spacing:0.000px;color:#000;font-weight:bold;transform:scaleX(1.0116);transform-origin:0 0;">WR</span>
<span class="t" style="left:1266.26px;top:953.88px;font-size:16.8px;letter-spacing:0.000px;color:#000;transform:scaleX(0.9846);transform-origin:0 0;-webkit-text-stroke:0.3px #000;">10</span>
<span class="t" style="left:1290.12px;top:953.88px;font-size:16.8px;letter-spacing:1.005px;color:#000;transform:scaleX(1.0500);transform-origin:0 0;-webkit-text-stroke:0.3px #000;">Chiri</span>
<div class="card" style="left:1343px;"><div class="bar"></div><svg class="abs" style="left:0;top:40px" width="113" height="26" viewBox="0 0 113 26"><polygon points="19.75,5.90 21.45,10.85 26.69,10.94 22.51,14.10 24.04,19.11 19.75,16.10 15.46,19.11 16.99,14.10 12.81,10.94 18.05,10.85" fill="#000"/><polygon points="38.35,5.90 40.05,10.85 45.29,10.94 41.11,14.10 42.64,19.11 38.35,16.10 34.06,19.11 35.59,14.10 31.41,10.94 36.65,10.85" fill="#000"/><polygon points="56.95,5.90 58.65,10.85 63.89,10.94 59.71,14.10 61.24,19.11 56.95,16.10 52.66,19.11 54.19,14.10 50.01,10.94 55.25,10.85" fill="#000"/><polygon points="75.55,7.10 77.02,11.18 81.35,11.31 77.93,13.97 79.14,18.14 75.55,15.70 71.96,18.14 73.17,13.97 69.75,11.31 74.08,11.18" fill="none" stroke="#000" stroke-width="1.15"/><polygon points="94.15,7.10 95.62,11.18 99.95,11.31 96.53,13.97 97.74,18.14 94.15,15.70 90.56,18.14 91.77,13.97 88.35,11.31 92.68,11.18" fill="none" stroke="#000" stroke-width="1.15"/></svg><div class="cb" style="left:5.3px;"><svg width="50" height="40" viewBox="0 0 50 40"><g transform="translate(11.55,9.6) rotate(29.2)">
<path d="M0,0 L8.9,-8.3 L8.9,-3.0 L20.3,-3.0 L20.3,3.0 L8.9,3.0 L8.9,8.3 Z" fill="#e6e4e4" stroke="#000" stroke-width="1.1" stroke-linejoin="miter"/>
<path d="M33.5,4.33 L23.9,-3.3 L23.9,1.75 L12.9,1.75 L12.9,7.25 L23.9,7.25 L23.9,13.0 Z" fill="#000"/>
</g></svg></div><div class="cb" style="left:59px;"><svg width="50" height="40" viewBox="0 0 50 40"><circle cx="25.1" cy="19.8" r="13" fill="none" stroke="#000" stroke-width="2"/>
<circle cx="24.5" cy="12.3" r="1.65" fill="#000"/>
<path d="M21,15.6 L26,15.2 L26,27.6 L29,27.9 L29,28.9 L21,28.9 L21,27.9 L23.7,27.6 L23.7,16.9 L21,16.6 Z" fill="#000"/></svg></div></div>
<span class="t" style="left:1346.84px;top:953.88px;font-size:16.8px;letter-spacing:0.000px;color:#000;font-weight:bold;transform:scaleX(1.0633);transform-origin:0 0;">DE</span>
<span class="t" style="left:1377.37px;top:953.88px;font-size:16.8px;letter-spacing:0.000px;color:#000;transform:scaleX(1.2230);transform-origin:0 0;-webkit-text-stroke:0.3px #000;">2</span>
<span class="t" style="left:1394.21px;top:953.88px;font-size:16.8px;letter-spacing:0.939px;color:#000;transform:scaleX(1.0500);transform-origin:0 0;-webkit-text-stroke:0.3px #000;">Sorvin</span>
<div class="card" style="left:1461px;"><div class="bar"></div><svg class="abs" style="left:0;top:40px" width="113" height="26" viewBox="0 0 113 26"><polygon points="19.75,5.90 21.45,10.85 26.69,10.94 22.51,14.10 24.04,19.11 19.75,16.10 15.46,19.11 16.99,14.10 12.81,10.94 18.05,10.85" fill="#000"/><polygon points="38.35,5.90 40.05,10.85 45.29,10.94 41.11,14.10 42.64,19.11 38.35,16.10 34.06,19.11 35.59,14.10 31.41,10.94 36.65,10.85" fill="#000"/><polygon points="56.95,5.90 58.65,10.85 63.89,10.94 59.71,14.10 61.24,19.11 56.95,16.10 52.66,19.11 54.19,14.10 50.01,10.94 55.25,10.85" fill="#000"/><polygon points="75.55,7.10 77.02,11.18 81.35,11.31 77.93,13.97 79.14,18.14 75.55,15.70 71.96,18.14 73.17,13.97 69.75,11.31 74.08,11.18" fill="none" stroke="#000" stroke-width="1.15"/><polygon points="94.15,7.10 95.62,11.18 99.95,11.31 96.53,13.97 97.74,18.14 94.15,15.70 90.56,18.14 91.77,13.97 88.35,11.31 92.68,11.18" fill="none" stroke="#000" stroke-width="1.15"/></svg><div class="cb" style="left:5.3px;"><svg width="50" height="40" viewBox="0 0 50 40"><g transform="translate(11.55,9.6) rotate(29.2)">
<path d="M0,0 L8.9,-8.3 L8.9,-3.0 L20.3,-3.0 L20.3,3.0 L8.9,3.0 L8.9,8.3 Z" fill="#e6e4e4" stroke="#000" stroke-width="1.1" stroke-linejoin="miter"/>
<path d="M33.5,4.33 L23.9,-3.3 L23.9,1.75 L12.9,1.75 L12.9,7.25 L23.9,7.25 L23.9,13.0 Z" fill="#000"/>
</g></svg></div><div class="cb" style="left:59px;"><svg width="50" height="40" viewBox="0 0 50 40"><circle cx="25.1" cy="19.8" r="13" fill="none" stroke="#000" stroke-width="2"/>
<circle cx="24.5" cy="12.3" r="1.65" fill="#000"/>
<path d="M21,15.6 L26,15.2 L26,27.6 L29,27.9 L29,28.9 L21,28.9 L21,27.9 L23.7,27.6 L23.7,16.9 L21,16.6 Z" fill="#000"/></svg></div></div>
<span class="t" style="left:1465.08px;top:953.88px;font-size:16.8px;letter-spacing:0.000px;color:#000;font-weight:bold;transform:scaleX(1.1634);transform-origin:0 0;">UN</span>
<span class="t" style="left:1496.86px;top:953.88px;font-size:16.8px;letter-spacing:0.000px;color:#000;transform:scaleX(0.9460);transform-origin:0 0;-webkit-text-stroke:0.3px #000;">51</span>
<span class="t" style="left:1520.12px;top:953.88px;font-size:16.8px;letter-spacing:0.566px;color:#000;transform:scaleX(1.0500);transform-origin:0 0;-webkit-text-stroke:0.3px #000;">Gardil</span>
<div class="card" style="left:1579px;"><div class="bar"></div><svg class="abs" style="left:0;top:40px" width="113" height="26" viewBox="0 0 113 26"><polygon points="19.75,5.90 21.45,10.85 26.69,10.94 22.51,14.10 24.04,19.11 19.75,16.10 15.46,19.11 16.99,14.10 12.81,10.94 18.05,10.85" fill="#000"/><polygon points="38.35,5.90 40.05,10.85 45.29,10.94 41.11,14.10 42.64,19.11 38.35,16.10 34.06,19.11 35.59,14.10 31.41,10.94 36.65,10.85" fill="#000"/><polygon points="56.95,5.90 58.65,10.85 63.89,10.94 59.71,14.10 61.24,19.11 56.95,16.10 52.66,19.11 54.19,14.10 50.01,10.94 55.25,10.85" fill="#000"/><polygon points="75.55,7.10 77.02,11.18 81.35,11.31 77.93,13.97 79.14,18.14 75.55,15.70 71.96,18.14 73.17,13.97 69.75,11.31 74.08,11.18" fill="none" stroke="#000" stroke-width="1.15"/><polygon points="94.15,7.10 95.62,11.18 99.95,11.31 96.53,13.97 97.74,18.14 94.15,15.70 90.56,18.14 91.77,13.97 88.35,11.31 92.68,11.18" fill="none" stroke="#000" stroke-width="1.15"/></svg><div class="cb" style="left:5.3px;"><svg width="50" height="40" viewBox="0 0 50 40"><g transform="translate(11.55,9.6) rotate(29.2)">
<path d="M0,0 L8.9,-8.3 L8.9,-3.0 L20.3,-3.0 L20.3,3.0 L8.9,3.0 L8.9,8.3 Z" fill="#e6e4e4" stroke="#000" stroke-width="1.1" stroke-linejoin="miter"/>
<path d="M33.5,4.33 L23.9,-3.3 L23.9,1.75 L12.9,1.75 L12.9,7.25 L23.9,7.25 L23.9,13.0 Z" fill="#000"/>
</g></svg></div><div class="cb" style="left:59px;"><svg width="50" height="40" viewBox="0 0 50 40"><circle cx="25.1" cy="19.8" r="13" fill="none" stroke="#000" stroke-width="2"/>
<circle cx="24.5" cy="12.3" r="1.65" fill="#000"/>
<path d="M21,15.6 L26,15.2 L26,27.6 L29,27.9 L29,28.9 L21,28.9 L21,27.9 L23.7,27.6 L23.7,16.9 L21,16.6 Z" fill="#000"/></svg></div></div>
<span class="t" style="left:1583.13px;top:953.88px;font-size:16.8px;letter-spacing:0.000px;color:#000;font-weight:bold;transform:scaleX(1.1613);transform-origin:0 0;">PI</span>
<span class="t" style="left:1607.81px;top:953.88px;font-size:16.8px;letter-spacing:0.000px;color:#000;transform:scaleX(0.9416);transform-origin:0 0;-webkit-text-stroke:0.3px #000;">13</span>
<span class="t" style="left:1630.49px;top:953.88px;font-size:16.8px;letter-spacing:0.738px;color:#000;transform:scaleX(1.0500);transform-origin:0 0;-webkit-text-stroke:0.3px #000;">Petrell</span>
<div class="card" style="left:1697px;"><div class="bar"></div><svg class="abs" style="left:0;top:40px" width="113" height="26" viewBox="0 0 113 26"><polygon points="19.75,5.90 21.45,10.85 26.69,10.94 22.51,14.10 24.04,19.11 19.75,16.10 15.46,19.11 16.99,14.10 12.81,10.94 18.05,10.85" fill="#000"/><polygon points="38.35,5.90 40.05,10.85 45.29,10.94 41.11,14.10 42.64,19.11 38.35,16.10 34.06,19.11 35.59,14.10 31.41,10.94 36.65,10.85" fill="#000"/><polygon points="56.95,5.90 58.65,10.85 63.89,10.94 59.71,14.10 61.24,19.11 56.95,16.10 52.66,19.11 54.19,14.10 50.01,10.94 55.25,10.85" fill="#000"/><polygon points="75.55,7.10 77.02,11.18 81.35,11.31 77.93,13.97 79.14,18.14 75.55,15.70 71.96,18.14 73.17,13.97 69.75,11.31 74.08,11.18" fill="none" stroke="#000" stroke-width="1.15"/><polygon points="94.15,7.10 95.62,11.18 99.95,11.31 96.53,13.97 97.74,18.14 94.15,15.70 90.56,18.14 91.77,13.97 88.35,11.31 92.68,11.18" fill="none" stroke="#000" stroke-width="1.15"/></svg><div class="cb" style="left:5.3px;"><svg width="50" height="40" viewBox="0 0 50 40"><g transform="translate(11.55,9.6) rotate(29.2)">
<path d="M0,0 L8.9,-8.3 L8.9,-3.0 L20.3,-3.0 L20.3,3.0 L8.9,3.0 L8.9,8.3 Z" fill="#e6e4e4" stroke="#000" stroke-width="1.1" stroke-linejoin="miter"/>
<path d="M33.5,4.33 L23.9,-3.3 L23.9,1.75 L12.9,1.75 L12.9,7.25 L23.9,7.25 L23.9,13.0 Z" fill="#000"/>
</g></svg></div><div class="cb" style="left:59px;"><svg width="50" height="40" viewBox="0 0 50 40"><circle cx="25.1" cy="19.8" r="13" fill="none" stroke="#000" stroke-width="2"/>
<circle cx="24.5" cy="12.3" r="1.65" fill="#000"/>
<path d="M21,15.6 L26,15.2 L26,27.6 L29,27.9 L29,28.9 L21,28.9 L21,27.9 L23.7,27.6 L23.7,16.9 L21,16.6 Z" fill="#000"/></svg></div></div>
<span class="t" style="left:1701.03px;top:953.88px;font-size:16.8px;letter-spacing:0.000px;color:#000;font-weight:bold;transform:scaleX(1.1566);transform-origin:0 0;">UN</span>
<span class="t" style="left:1734.84px;top:953.88px;font-size:16.8px;letter-spacing:0.000px;color:#000;transform:scaleX(1.1248);transform-origin:0 0;-webkit-text-stroke:0.3px #000;">54</span>
<span class="t" style="left:1761.96px;top:953.88px;font-size:16.8px;letter-spacing:1.079px;color:#000;transform:scaleX(1.0500);transform-origin:0 0;-webkit-text-stroke:0.3px #000;">Vitull</span>
<span class="t" style="left:1866.95px;top:1059.76px;font-size:18px;letter-spacing:0.078px;color:#2f4f52;transform:scaleX(1.0500);transform-origin:0 0;-webkit-text-stroke:0.3px #2f4f52;">v0.4.4</span>
</div>
</body></html>
